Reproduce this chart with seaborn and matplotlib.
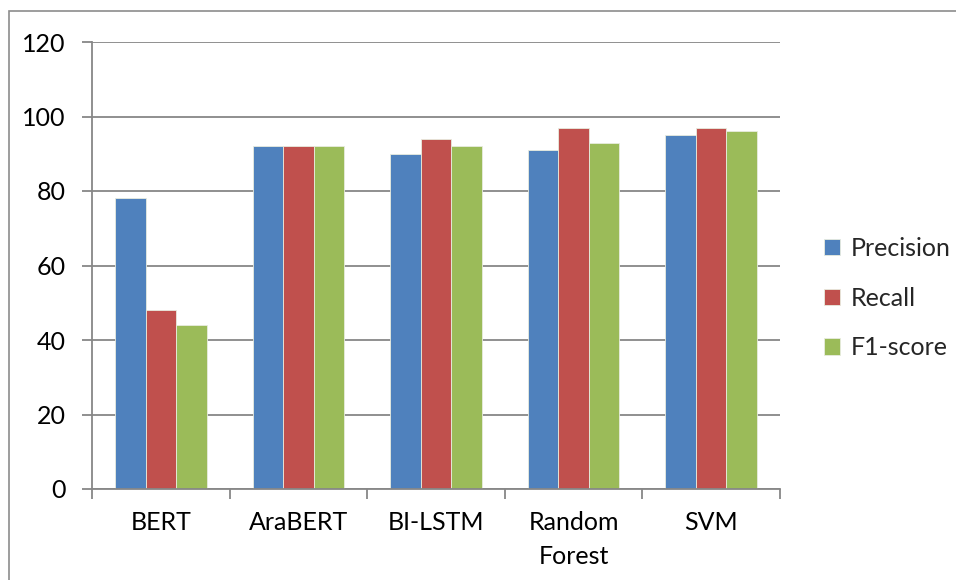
import matplotlib
matplotlib.use("Agg")
import matplotlib.pyplot as plt
import seaborn as sns
import pandas as pd
from matplotlib.patches import Rectangle
from matplotlib.ticker import MultipleLocator

# Data
models = ["BERT", "AraBERT", "BI-LSTM", "Random\nForest", "SVM"]
precision = [78, 92, 90, 91, 95]
recall = [48, 92, 94, 97, 97]
f1_score = [44, 92, 92, 93, 96]
metrics = ["Precision", "Recall", "F1-score"]
colors = ["#4F81BD", "#C0504D", "#9BBB59"]

df = pd.DataFrame({
    "Model": models * 3,
    "Metric": [m for m in metrics for _ in models],
    "Score": precision + recall + f1_score,
})

sns.set_theme(style="white")
plt.rcParams["font.family"] = ["Lato", "DejaVu Sans"]

fig = plt.figure(figsize=(9.56, 5.8), dpi=100)
ax = fig.add_axes([92 / 956, 1 - 489 / 580, 688 / 956, 447 / 580])

sns.barplot(data=df, x="Model", y="Score", hue="Metric", palette=colors,
            width=0.665, gap=0, edgecolor="#e8ecdf", linewidth=0.6,
            saturation=1, ax=ax, legend=True)

grid_c = "#878787"
ax.set_ylim(0, 120)
ax.yaxis.set_major_locator(MultipleLocator(20))
ax.set_xlim(-0.5, 4.5)
ax.yaxis.grid(True, color=grid_c, linewidth=1.3)
ax.set_axisbelow(True)
for s in ["top", "right"]:
    ax.spines[s].set_visible(False)
for s in ["left", "bottom"]:
    ax.spines[s].set_color(grid_c)
    ax.spines[s].set_linewidth(1.3)

ax.set_xlabel("")
ax.set_ylabel("")
ax.tick_params(axis="y", left=True, length=7, width=1.3, color=grid_c,
               labelsize=18, pad=12, labelcolor="black")
# category boundaries as x ticks
ax.set_xticks([i - 0.5 for i in range(6)], minor=True)
ax.tick_params(axis="x", which="minor", bottom=True, length=7, width=1.3, color=grid_c)
ax.tick_params(axis="x", which="major", bottom=False, labelsize=18, pad=10,
               labelcolor="black")
for t in ax.get_xticklabels():
    t.set_linespacing(1.55)

handles, labels = ax.get_legend_handles_labels()
ax.legend(handles, labels, loc="center left", bbox_to_anchor=(1.064, 0.427),
          frameon=False, fontsize=18, handlelength=0.65, handleheight=0.65,
          handletextpad=0.4, labelspacing=1.07, borderpad=0, borderaxespad=0)

# outer chart frame
fig.patches.append(Rectangle((9 / 956, -0.01), 1.0, 1 - 11 / 580 + 0.01,
                             transform=fig.transFigure, fill=False,
                             edgecolor="#8c8c8c", linewidth=1.2))

fig.savefig("out.png", dpi=100)
